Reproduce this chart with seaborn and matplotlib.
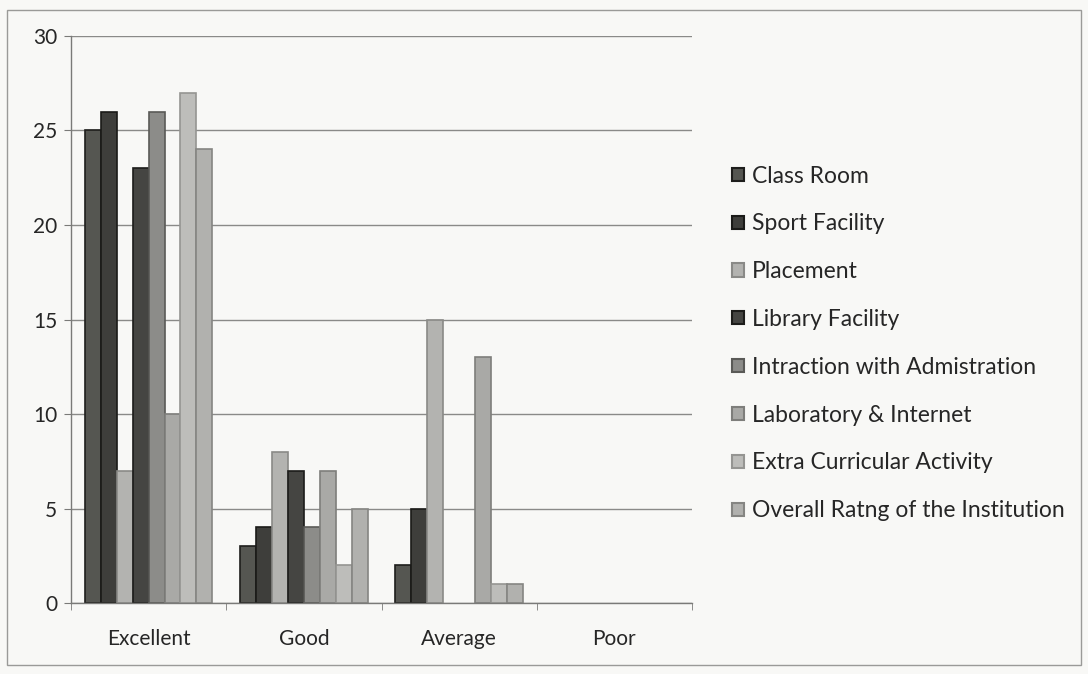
import pandas as pd
import matplotlib.pyplot as plt
import seaborn as sns
from matplotlib.patches import Rectangle

# Survey ratings per facility
ratings = ['Excellent', 'Good', 'Average', 'Poor']
facilities = ['Class Room', 'Sport Facility', 'Placement', 'Library Facility',
              'Intraction with Admistration', 'Laboratory & Internet',
              'Extra Curricular Activity', 'Overall Ratng of the Institution']
class_room = [25, 3, 2, 0]
sport_facility = [26, 4, 5, 0]
placement = [7, 8, 15, 0]
library_facility = [23, 7, 0, 0]
intraction_admin = [26, 4, 0, 0]
laboratory_internet = [10, 7, 13, 0]
extra_curricular = [27, 2, 1, 0]
overall_rating = [24, 5, 1, 0]

colors = ['#555651', '#3e3e3b', '#b3b3b0', '#454542',
          '#8c8c89', '#a9a9a6', '#bdbdba', '#b1b1ae']
edges = ['#1e1e1c', '#1a1a18', '#8a8a87', '#1c1c1a',
         '#5a5a57', '#7e7e7b', '#959592', '#858582']

series = [class_room, sport_facility, placement, library_facility,
          intraction_admin, laboratory_internet, extra_curricular, overall_rating]
rows = []
for name, vals in zip(facilities, series):
    for r, v in zip(ratings, vals):
        rows.append({'Rating': r, 'Facility': name, 'Count': v})
df = pd.DataFrame(rows)

sns.set_style('white')
plt.rcParams['font.family'] = ['Lato', 'DejaVu Sans']

fig = plt.figure(figsize=(10.88, 6.74), dpi=100, facecolor='#f8f8f6')
ax = fig.add_axes([71 / 1088, 0.1053, 621 / 1088, 0.8413])
ax.set_facecolor('#f8f8f6')

sns.barplot(data=df, x='Rating', y='Count', hue='Facility', hue_order=facilities,
            palette=colors, width=0.82, gap=0, saturation=1, ax=ax, legend=False)

# bar edges per series
for cont, ec in zip(ax.containers, edges):
    for bar in cont:
        bar.set_edgecolor(ec)
        bar.set_linewidth(1.2 if bar.get_height() > 0 else 0)

ax.set_ylim(0, 30)
ax.set_xlim(-0.5, 3.5)
ax.set_yticks(range(0, 31, 5))
ax.yaxis.grid(True, color='#8a8a88', linewidth=1.0)
ax.set_axisbelow(True)
ax.set_xlabel('')
ax.set_ylabel('')
for s in ['top', 'right']:
    ax.spines[s].set_visible(False)
for s in ['left', 'bottom']:
    ax.spines[s].set_color('#7a7a78')
    ax.spines[s].set_linewidth(1.0)
ax.tick_params(axis='y', length=5, color='#7a7a78', labelsize=15, pad=5, left=True)
ax.tick_params(axis='x', length=0, labelsize=15, pad=19)
# category separator ticks
ax.set_xticks([-0.5, 0.5, 1.5, 2.5, 3.5], minor=True)
ax.tick_params(axis='x', which='minor', length=5, color='#7a7a78', bottom=True)

handles = [Rectangle((0, 0), 1, 1, facecolor=c, edgecolor=e, linewidth=1.5)
           for c, e in zip(colors, edges)]
fig.legend(handles, facilities, loc='upper left', bbox_to_anchor=(0.654, 0.785),
           frameon=False, fontsize=16.5, handlelength=0.5, handleheight=0.5,
           handletextpad=0.35, labelspacing=1.17)

fig.add_artist(Rectangle((0.006, 0.013), 0.988, 0.972, transform=fig.transFigure,
                         fill=False, edgecolor='#9a9a98', linewidth=1.0))

plt.savefig('out.png', dpi=100, facecolor=fig.get_facecolor())
